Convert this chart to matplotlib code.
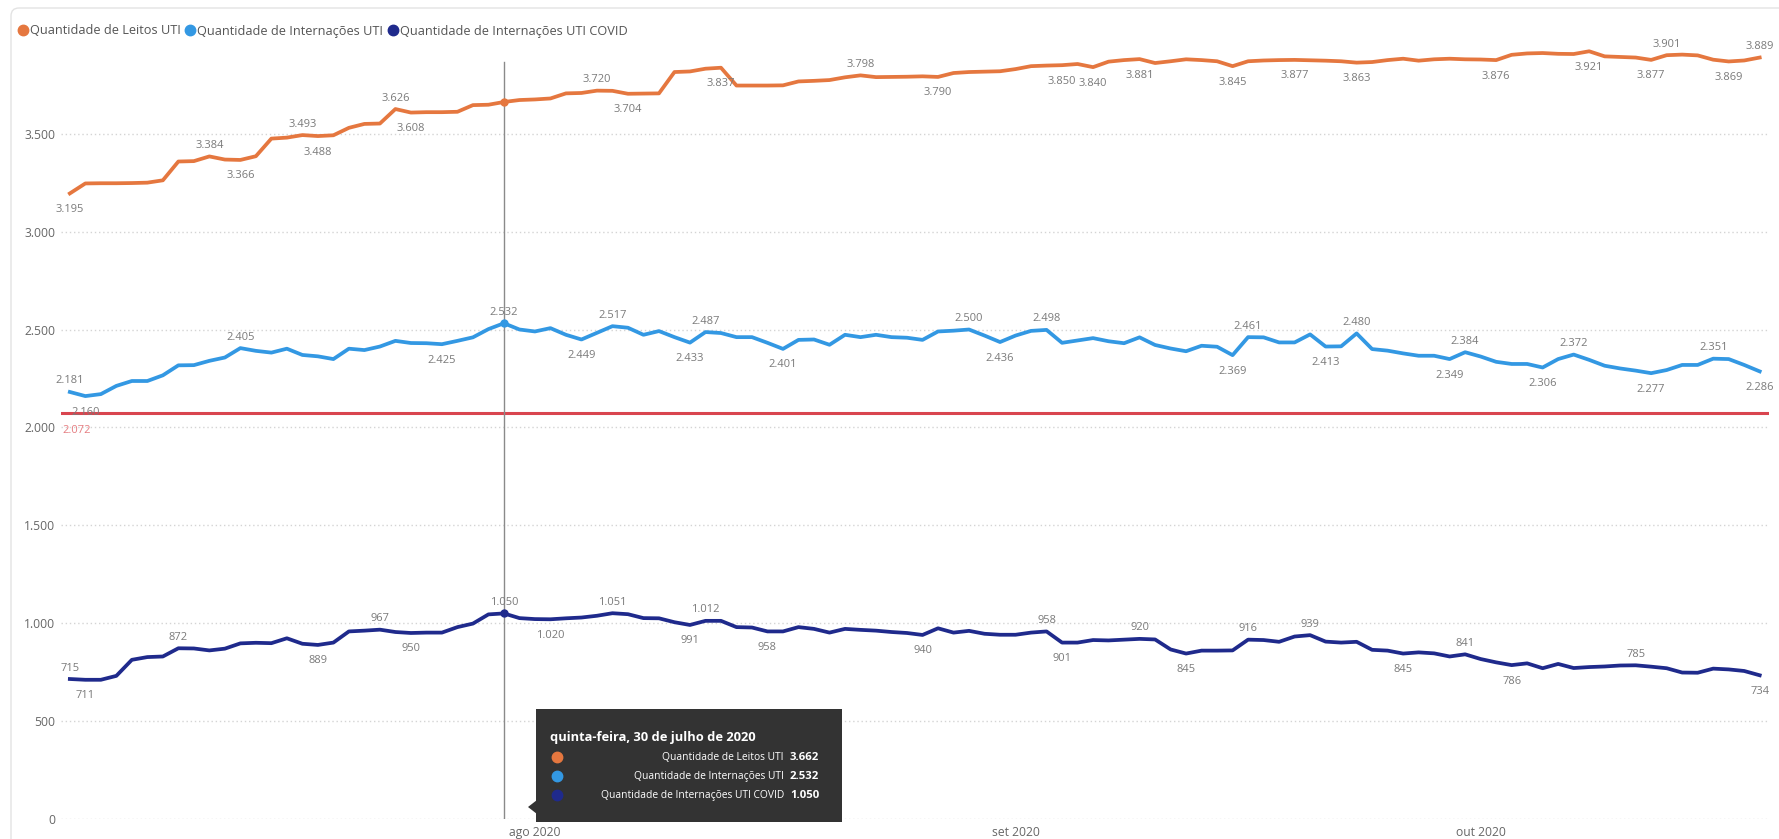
import numpy as np
import pandas as pd
import matplotlib
matplotlib.use('Agg')
import matplotlib.pyplot as plt
from matplotlib.lines import Line2D
from matplotlib.patches import FancyBboxPatch, Polygon

plt.rcParams['font.family'] = ['Open Sans', 'DejaVu Sans']

# datas diárias (02/07 a 19/10/2020)
datas = pd.date_range('2020-07-02', '2020-10-19', freq='D')

leitos = [3195, 3246, 3247, 3247, 3248, 3250, 3262, 3358, 3360, 3384,
          3368, 3366, 3385, 3475, 3480, 3493, 3488, 3492, 3530, 3550,
          3552, 3626, 3608, 3610, 3610, 3612, 3646, 3648, 3662, 3672,
          3675, 3680, 3706, 3708, 3720, 3719, 3704, 3705, 3706, 3815,
          3818, 3832, 3837, 3746, 3746, 3746, 3747, 3767, 3770, 3774,
          3788, 3798, 3789, 3790, 3791, 3793, 3790, 3810, 3815, 3817,
          3819, 3830, 3845, 3848, 3850, 3856, 3840, 3868, 3876, 3881,
          3861, 3870, 3880, 3876, 3870, 3845, 3870, 3874, 3876, 3877,
          3875, 3873, 3870, 3863, 3866, 3876, 3883, 3873, 3880, 3883,
          3880, 3879, 3876, 3903, 3910, 3912, 3908, 3907, 3921, 3895,
          3892, 3889, 3877, 3901, 3904, 3900, 3878, 3869, 3874, 3889]

internacoes = [2181, 2160, 2170, 2212, 2237, 2237, 2266, 2317, 2318, 2340,
               2357, 2405, 2391, 2382, 2402, 2370, 2363, 2349, 2402, 2395,
               2413, 2442, 2431, 2430, 2425, 2442, 2460, 2502, 2532, 2500,
               2490, 2507, 2473, 2449, 2483, 2517, 2509, 2473, 2492, 2461,
               2433, 2487, 2482, 2461, 2461, 2432, 2401, 2447, 2449, 2422,
               2473, 2461, 2473, 2461, 2458, 2447, 2490, 2494, 2500, 2469,
               2436, 2469, 2493, 2498, 2432, 2444, 2456, 2440, 2430, 2460,
               2421, 2403, 2389, 2417, 2412, 2369, 2461, 2460, 2434, 2434,
               2475, 2413, 2414, 2480, 2400, 2392, 2378, 2366, 2366, 2349,
               2384, 2362, 2335, 2324, 2324, 2306, 2349, 2372, 2345, 2315,
               2301, 2290, 2277, 2293, 2319, 2319, 2351, 2349, 2319, 2286]

covid = [715, 711, 711, 731, 813, 827, 830, 872, 871, 861,
         870, 897, 900, 898, 923, 895, 889, 901, 958, 962,
         967, 955, 950, 952, 952, 980, 998, 1045, 1050, 1026,
         1021, 1020, 1025, 1029, 1038, 1051, 1046, 1026, 1025, 1005,
         991, 1012, 1012, 980, 978, 958, 958, 980, 971, 952,
         971, 966, 962, 955, 950, 940, 974, 952, 961, 946,
         941, 941, 952, 958, 901, 901, 914, 912, 916, 920,
         917, 866, 845, 860, 860, 861, 916, 914, 905, 932,
         939, 906, 901, 905, 864, 860, 845, 851, 846, 830,
         841, 817, 800, 786, 795, 770, 792, 771, 776, 779,
         784, 785, 778, 770, 748, 747, 768, 764, 756, 734]

limite = 2072
dia_tooltip = 28  # 30/07/2020

nomes = ['Quantidade de Leitos UTI', 'Quantidade de Internações UTI',
         'Quantidade de Internações UTI COVID']
cores = ['#E5773F', '#3398E3', '#1F2A8C']

# rótulos de dados: (índice do dia, acima/abaixo)
rot_leitos = [(0, 'b'), (9, 'a'), (11, 'b'), (15, 'a'), (16, 'b'), (21, 'a'), (22, 'b'),
              (34, 'a'), (36, 'b'), (42, 'b'), (51, 'a'), (56, 'b'), (64, 'b'), (66, 'b'),
              (69, 'b'), (75, 'b'), (79, 'b'), (83, 'b'), (92, 'b'), (98, 'b'), (102, 'b'),
              (103, 'a'), (107, 'b'), (109, 'a')]
rot_intern = [(0, 'a'), (1, 'b'), (11, 'a'), (24, 'b'), (28, 'a'), (33, 'b'), (35, 'a'),
              (40, 'b'), (41, 'a'), (46, 'b'), (58, 'a'), (60, 'b'), (63, 'a'), (75, 'b'),
              (76, 'a'), (81, 'b'), (83, 'a'), (89, 'b'), (90, 'a'), (95, 'b'), (97, 'a'),
              (102, 'b'), (106, 'a'), (109, 'b')]
rot_covid = [(0, 'a'), (1, 'b'), (7, 'a'), (16, 'b'), (20, 'a'), (22, 'b'), (28, 'a'),
             (31, 'b'), (35, 'a'), (40, 'b'), (41, 'a'), (45, 'b'), (55, 'b'), (63, 'a'),
             (64, 'b'), (69, 'a'), (72, 'b'), (76, 'a'), (80, 'a'), (86, 'b'), (90, 'a'),
             (93, 'b'), (101, 'a'), (109, 'b')]


def fmt(v):
    return f"{int(v):,}".replace(',', '.')


W, H = 1779, 839
fig = plt.figure(figsize=(W / 100, H / 100), dpi=100)
fig.patch.set_facecolor('white')

# moldura do visual
bg = fig.add_axes([0, 0, 1, 1], zorder=-5)
bg.set_xlim(0, W)
bg.set_ylim(H, 0)
bg.axis('off')
bg.add_patch(FancyBboxPatch((11, 8), W + 20, H + 20, boxstyle='round,pad=0,rounding_size=8',
                            facecolor='white', edgecolor='#E3E3E3', lw=1))

ax = fig.add_axes([61 / W, 1 - 819 / H, (1769 - 61) / W, (819 - 45.6) / H])
ax.set_facecolor('none')

series = [leitos, internacoes, covid]
rotulos = [rot_leitos, rot_intern, rot_covid]
for vals, cor, rots in zip(series, cores, rotulos):
    ax.plot(datas, vals, color=cor, lw=2.7, solid_joinstyle='round', zorder=3)
    for i, pos in rots:
        dy = 11 if pos == 'a' else -16
        ax.annotate(fmt(vals[i]), (datas[i], vals[i]), xytext=(0, dy),
                    textcoords='offset pixels', ha='center', va='center',
                    fontsize=8, color='#7A7A7A', zorder=4)

# linha de referência
ax.axhline(limite, color='#D9454F', lw=2.2, zorder=2)
x0 = datas[0] - pd.Timedelta(days=0.57)
ax.annotate(fmt(limite), (x0, limite), xytext=(1, -17), textcoords='offset pixels',
            ha='left', va='center', fontsize=8, color='#E57C80')

# cursor do tooltip
dt = datas[dia_tooltip]
ax.plot([dt, dt], [0, 3866], color='#8A8A8A', lw=1, zorder=2)
for vals, cor in zip(series, cores):
    ax.plot(dt, vals[dia_tooltip], 'o', ms=5, color=cor, zorder=5)

ax.set_xlim(x0, datas[0] + pd.Timedelta(days=109.6))
ax.set_ylim(0, 3950)
ax.set_yticks(np.arange(0, 4000, 500))
ax.set_yticklabels([fmt(v) for v in np.arange(0, 4000, 500)])
meses = pd.to_datetime(['2020-08-01', '2020-09-01', '2020-10-01'])
ax.set_xticks(meses)
ax.set_xticklabels(['ago 2020', 'set 2020', 'out 2020'])
ax.tick_params(length=0, labelsize=8.7, labelcolor='#666666')
ax.tick_params(axis='y', pad=4)
ax.tick_params(axis='x', pad=5)
ax.grid(axis='y', color='#D4D4D4', linestyle=(0, (1, 2)), lw=1)
for s in ax.spines.values():
    s.set_visible(False)

# legenda
handles = [Line2D([], [], marker='o', linestyle='', markersize=7.5, color=c) for c in cores]
fig.legend(handles, nomes, loc='center left', bbox_to_anchor=(14 / W, 1 - 31 / H),
           ncol=3, frameon=False, fontsize=9.2, handlelength=0.6, handletextpad=0.25,
           columnspacing=0.45, borderaxespad=0, labelcolor='#555555')

# tooltip
tip = fig.add_axes([536 / W, 1 - 822 / H, (842 - 536) / W, (822 - 709) / H], zorder=10)
tip.set_xlim(536, 842)
tip.set_ylim(822, 709)
tip.set_facecolor('#333333')
tip.set_xticks([])
tip.set_yticks([])
for s in tip.spines.values():
    s.set_visible(False)
bg.add_patch(Polygon([(528, 807), (537, 800), (537, 814)], closed=True,
                     facecolor='#333333', edgecolor='none'))
tip.text(550, 737, 'quinta-feira, 30 de julho de 2020', color='white', fontsize=9.3,
         fontweight='bold', va='center', ha='left')
for k, (vals, cor, nome) in enumerate(zip(series, cores, nomes)):
    yy = 757 + k * 19
    tip.plot(557, yy, 'o', ms=7.5, color=cor)
    tip.text(784, yy, nome, color='white', fontsize=7.4,
             va='center', ha='right')
    tip.text(790, yy, fmt(vals[dia_tooltip]), color='white', fontsize=8.2,
             fontweight='bold', va='center', ha='left')

fig.savefig('out.png', dpi=100)
